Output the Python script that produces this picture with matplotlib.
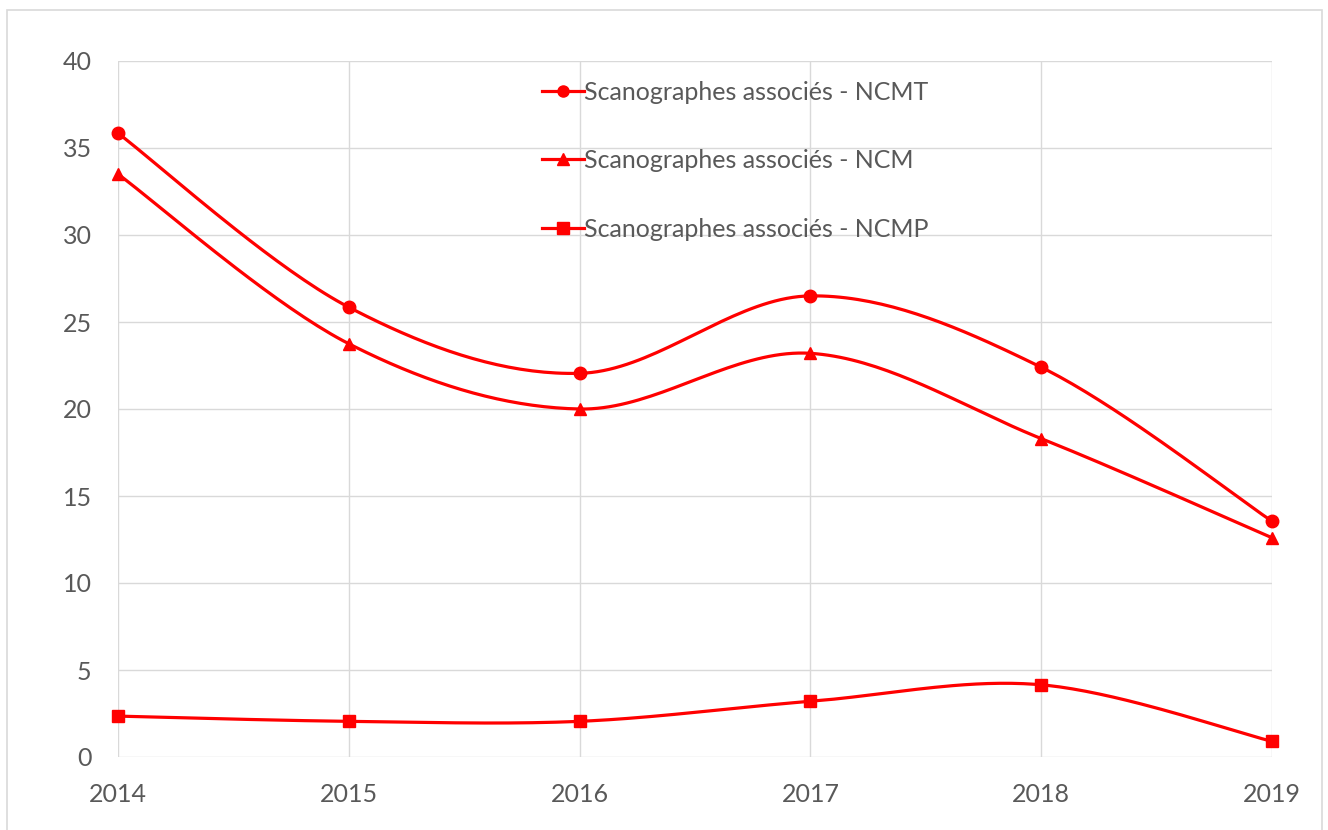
import matplotlib.pyplot as plt
import numpy as np
from matplotlib.patches import Rectangle

annees = [2014, 2015, 2016, 2017, 2018, 2019]
ncmt = [35.85, 25.85, 22.05, 26.5, 22.4, 13.55]
ncm = [33.5, 23.75, 20.0, 23.2, 18.3, 12.6]
ncmp = [2.35, 2.05, 2.05, 3.2, 4.15, 0.9]

series = [
    ('Scanographes associés - NCMT', ncmt, 'o'),
    ('Scanographes associés - NCM', ncm, '^'),
    ('Scanographes associés - NCMP', ncmp, 's'),
]

ROUGE = '#ff0000'
GRIS = '#595959'


# Courbe lissée façon Excel (Catmull-Rom / Bézier)
def lisser(x, y, n=40):
    x = np.asarray(x, float)
    y = np.asarray(y, float)
    px = np.concatenate([[x[0]], x, [x[-1]]])
    py = np.concatenate([[y[0]], y, [y[-1]]])
    xs, ys = [], []
    t = np.linspace(0, 1, n)
    for i in range(1, len(px) - 2):
        p0 = np.array([px[i], py[i]])
        p3 = np.array([px[i + 1], py[i + 1]])
        c1 = p0 + (np.array([px[i + 1], py[i + 1]]) - np.array([px[i - 1], py[i - 1]])) / 6
        c2 = p3 - (np.array([px[i + 2], py[i + 2]]) - np.array([px[i], py[i]])) / 6
        b = ((1 - t) ** 3)[:, None] * p0 + (3 * (1 - t) ** 2 * t)[:, None] * c1 \
            + (3 * (1 - t) * t ** 2)[:, None] * c2 + (t ** 3)[:, None] * p3
        xs.extend(b[:, 0])
        ys.extend(b[:, 1])
    return xs, ys


plt.rcParams['font.family'] = ['Lato', 'DejaVu Sans']

fig = plt.figure(figsize=(13.28, 8.3), dpi=100)
ax = fig.add_axes([118 / 1328, 1 - 757 / 830, (1272 - 118) / 1328, (757 - 61) / 830])

for nom, vals, mk in series:
    xs, ys = lisser(annees, vals)
    ax.plot(xs, ys, color=ROUGE, lw=2.3, clip_on=False, zorder=3)
    ax.plot(annees, vals, linestyle='none', marker=mk, color=ROUGE, ms=9, clip_on=False, zorder=4)
    ax.plot([], [], color=ROUGE, lw=2.3, marker=mk, ms=8, label=nom)

ax.set_xlim(2014, 2019)
ax.set_ylim(0, 40)
ax.set_xticks(annees)
ax.set_yticks(range(0, 41, 5))
ax.grid(True, color='#d9d9d9', lw=1)
ax.set_axisbelow(True)
for s in ax.spines.values():
    s.set_visible(False)
ax.tick_params(length=0, labelsize=18, labelcolor=GRIS)
ax.tick_params(axis='y', pad=19)
ax.tick_params(axis='x', pad=19)

leg = ax.legend(loc='upper left', bbox_to_anchor=(0.3544, 0.9935), frameon=False,
                fontsize=18, labelcolor=GRIS, labelspacing=1.82, handlelength=1.7,
                handletextpad=0.0, borderaxespad=0.2)

fig.add_artist(Rectangle((7 / 1328, -0.01), (1322 - 7) / 1328, (830 - 10) / 830 + 0.01,
                         transform=fig.transFigure, fill=False, edgecolor='#d9d9d9', lw=1.2))

fig.savefig('out.png', dpi=100)
